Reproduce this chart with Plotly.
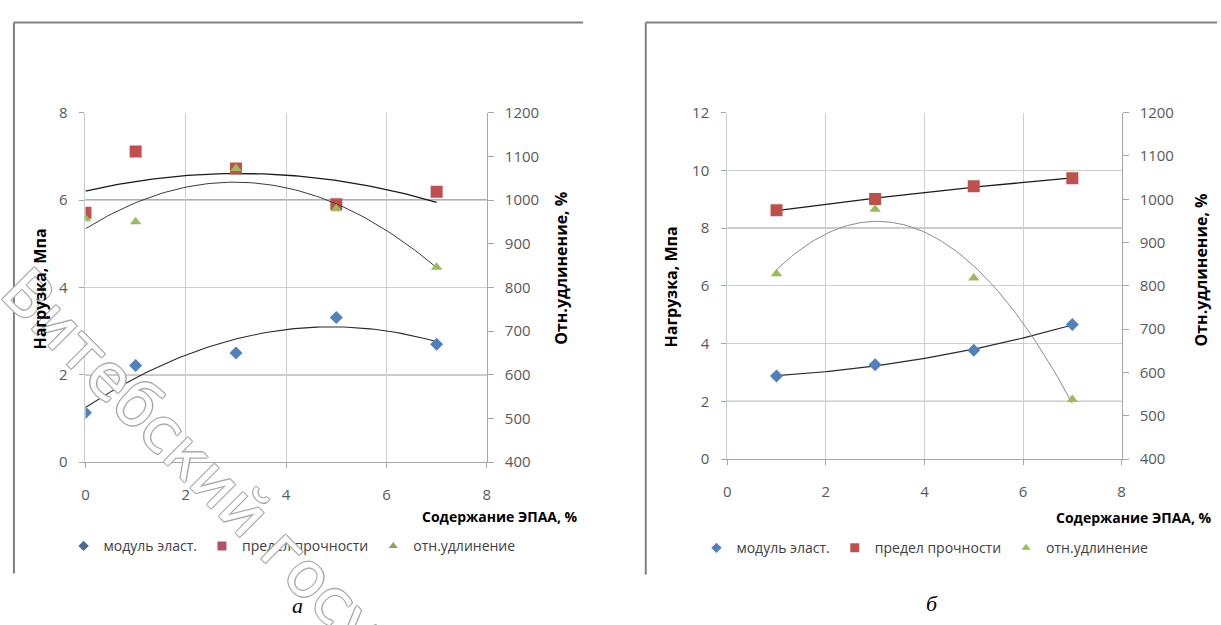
import numpy as np
import plotly.graph_objects as go

# ---------------- data ----------------
series_names = ["модуль эласт.", "предел прочности", "отн.удлинение"]

# panel a
x_a = [0, 1, 3, 5, 7]
modul_a = [1.13, 2.21, 2.50, 3.31, 2.70]        # МПа, left axis
predel_a = [5.71, 7.11, 6.72, 5.90, 6.19]       # МПа, left axis
udlin_a = [957, 950, 1072, 980, 846]            # %, right axis

# panel b
x_b = [1, 3, 5, 7]
modul_b = [2.88, 3.27, 3.77, 4.66]
predel_b = [8.62, 9.01, 9.45, 9.73]
udlin_b = [828, 977, 818, 538]

x_ticks = [0, 2, 4, 6, 8]
left_ticks_a = [0, 2, 4, 6, 8]
left_ticks_b = [0, 2, 4, 6, 8, 10, 12]
right_ticks = [400, 500, 600, 700, 800, 900, 1000, 1100, 1200]

x_title = "Содержание ЭПАА, %"
y_left_title = "Нагрузка, Мпа"
y_right_title = "Отн.удлинение, %"
panel_labels = ["а", "б"]
watermark = "Витебский госу"

# ---------------- style ----------------
W, H = 1221, 625
BLUE, RED, GREEN = "#4F81BD", "#C0504D", "#9BBB59"
FONT = "Open Sans"
TICKC = "#595959"
GRID = "#cfcfcf"
AXC = "#a6a6a6"


def px_x(p):
    return p / W


def px_y(p):
    return 1 - p / H


def trend(x, y, x0, x1):
    """Excel-style 2nd order polynomial trendline."""
    c = np.polyfit(x, y, 2)
    xs = np.linspace(x0, x1, 80)
    return xs, np.polyval(c, xs)


fig = go.Figure()

# ---------- panel a ----------
for xs, ys, col, w, yax in [
    (x_a, predel_a, "#1a1a1a", 1.3, "y"),
    (x_a, udlin_a, "#3a3a3a", 1.0, "y2"),
    (x_a, modul_a, "#2a2a2a", 1.1, "y"),
]:
    tx, ty = trend(xs, ys, 0, 7)
    fig.add_trace(go.Scatter(x=tx, y=ty, mode="lines", xaxis="x", yaxis=yax,
                             line=dict(color=col, width=w), showlegend=False,
                             hoverinfo="skip"))

fig.add_trace(go.Scatter(x=x_a, y=modul_a, mode="markers", xaxis="x", yaxis="y",
                         marker=dict(symbol="diamond", size=10, color=BLUE),
                         showlegend=False))
fig.add_trace(go.Scatter(x=x_a, y=predel_a, mode="markers", xaxis="x", yaxis="y",
                         marker=dict(symbol="square", size=12, color=RED),
                         showlegend=False))
fig.add_trace(go.Scatter(x=x_a, y=udlin_a, mode="markers", xaxis="x", yaxis="y2",
                         marker=dict(symbol="triangle-up", size=10, color=GREEN),
                         showlegend=False))

# ---------- panel b ----------
for xs, ys, col, w, yax in [
    (x_b, predel_b, "#1a1a1a", 1.3, "y3"),
    (x_b, modul_b, "#2a2a2a", 1.2, "y3"),
    (x_b, udlin_b, "#8a8a8a", 1.0, "y4"),
]:
    tx, ty = trend(xs, ys, 1, 7)
    fig.add_trace(go.Scatter(x=tx, y=ty, mode="lines", xaxis="x2", yaxis=yax,
                             line=dict(color=col, width=w), showlegend=False,
                             hoverinfo="skip"))

fig.add_trace(go.Scatter(x=x_b, y=modul_b, mode="markers", xaxis="x2", yaxis="y3",
                         marker=dict(symbol="diamond", size=10, color=BLUE),
                         showlegend=False))
fig.add_trace(go.Scatter(x=x_b, y=predel_b, mode="markers", xaxis="x2", yaxis="y3",
                         marker=dict(symbol="square", size=12, color=RED),
                         showlegend=False))
fig.add_trace(go.Scatter(x=x_b, y=udlin_b, mode="markers", xaxis="x2", yaxis="y4",
                         marker=dict(symbol="triangle-up", size=10, color=GREEN),
                         showlegend=False))

# ---------- legend entries (small symbols as in the original) ----------
leg_symbols = ["diamond", "square", "triangle-up"]
leg_sizes = [8, 9, 8]
leg_colors_a = ["#4A6A8C", "#B9506A", "#8FA062"]
leg_colors_b = [BLUE, RED, GREEN]
for name, sym, sz, col in zip(series_names, leg_symbols, leg_sizes, leg_colors_a):
    fig.add_trace(go.Scatter(x=[None], y=[None], mode="markers", name=name,
                             xaxis="x", yaxis="y", legend="legend",
                             marker=dict(symbol=sym, size=sz, color=col)))
for name, sym, sz, col in zip(series_names, leg_symbols, leg_sizes, leg_colors_b):
    fig.add_trace(go.Scatter(x=[None], y=[None], mode="markers", name=name,
                             xaxis="x2", yaxis="y3", legend="legend2",
                             marker=dict(symbol=sym, size=sz, color=col)))

tickfont = dict(family=FONT, size=15, color=TICKC)


def xaxis_cfg(domain, anchor):
    return dict(domain=domain, anchor=anchor, range=[0, 8], tickvals=x_ticks,
                showgrid=True, gridcolor=GRID, gridwidth=1, zeroline=False,
                showline=True, linecolor=AXC, linewidth=1,
                ticks="outside", ticklen=5, tickcolor=AXC,
                ticklabelstandoff=14, tickfont=tickfont, fixedrange=True)


def yleft_cfg(domain, anchor, rng, vals):
    return dict(domain=domain, anchor=anchor, range=rng, tickvals=vals,
                showgrid=True, gridcolor=GRID, gridwidth=1, zeroline=False,
                showline=True, linecolor="#c3ccd6", linewidth=1,
                ticks="outside", ticklen=5, tickcolor=AXC,
                ticklabelstandoff=9, tickfont=tickfont, fixedrange=True)


def yright_cfg(overlay, anchor):
    return dict(overlaying=overlay, anchor=anchor, side="right", range=[400, 1200],
                tickvals=right_ticks, showgrid=False, zeroline=False,
                showline=True, linecolor=AXC, linewidth=1,
                ticks="outside", ticklen=6, tickcolor=AXC,
                ticklabelstandoff=8, tickfont=tickfont, fixedrange=True)


legend_common = dict(orientation="h", xanchor="left", yanchor="middle",
                     bgcolor="rgba(0,0,0,0)", borderwidth=0,
                     font=dict(family=FONT, size=14, color="#404040"),
                     itemclick=False, itemdoubleclick=False, tracegroupgap=0)

fig.update_layout(
    width=W, height=H,
    margin=dict(l=0, r=0, t=0, b=0),
    paper_bgcolor="white", plot_bgcolor="white",
    font=dict(family=FONT),
    xaxis=xaxis_cfg([px_x(82), px_x(486)], "y"),
    yaxis=yleft_cfg([px_y(466), px_y(105)], "x", [0, 8], left_ticks_a),
    yaxis2=yright_cfg("y", "x"),
    xaxis2=xaxis_cfg([px_x(728), px_x(1125)], "y3"),
    yaxis3=yleft_cfg([px_y(463), px_y(105)], "x2", [0, 12], left_ticks_b),
    yaxis4=yright_cfg("y3", "x2"),
    legend=dict(legend_common, x=px_x(60), y=px_y(553)),
    legend2=dict(legend_common, x=px_x(697), y=px_y(555)),
)

# ---------- frames and darker gridlines (scan look) ----------
shapes = []
frame = dict(type="line", xref="paper", yref="paper", line=dict(color="#808080", width=2))
shapes.append(dict(frame, x0=px_x(10), x1=px_x(583), y0=px_y(12), y1=px_y(12)))
shapes.append(dict(frame, x0=px_x(10), x1=px_x(10), y0=px_y(12), y1=px_y(581)))
shapes.append(dict(frame, x0=px_x(646), x1=1, y0=px_y(12), y1=px_y(12)))
shapes.append(dict(frame, x0=px_x(646), x1=px_x(646), y0=px_y(12), y1=px_y(582)))
dark_grid_a = [2, 6]
dark_grid_b = [2, 8]
for v in dark_grid_a:
    shapes.append(dict(type="line", xref="x domain", yref="y", x0=0, x1=1, y0=v, y1=v,
                       line=dict(color="#959595", width=1.3), layer="below"))
for v in dark_grid_b:
    shapes.append(dict(type="line", xref="x2 domain", yref="y3", x0=0, x1=1, y0=v, y1=v,
                       line=dict(color="#959595", width=1.3), layer="below"))
fig.update_layout(shapes=shapes)

# ---------- texts ----------
ann = []
ann.append(dict(text=watermark, x=px_x(190), y=px_y(463), xref="paper", yref="paper",
                showarrow=False, textangle=45, xanchor="center", yanchor="middle",
                font=dict(family="DejaVu Sans", size=62, color="white",
                          shadow="1px 1px 0 #a8a8a8, -1px -1px 0 #a8a8a8, 1px -1px 0 #a8a8a8, -1px 1px 0 #a8a8a8")))
title_font_v = dict(family=FONT, size=16, color="black")
title_font_h = dict(family=FONT, size=14, color="black")
ann += [
    dict(text="<b>%s</b>" % x_title, x=px_x(580), y=px_y(522), xanchor="right", yanchor="middle",
         font=title_font_h),
    dict(text="<b>%s</b>" % x_title, x=px_x(1057), y=px_y(523), xanchor="left", yanchor="middle",
         font=title_font_h),
    dict(text="<b>%s</b>" % y_left_title, x=px_x(36), y=px_y(287), textangle=-90,
         xanchor="center", yanchor="middle", font=title_font_v),
    dict(text="<b>%s</b>" % y_right_title, x=px_x(561), y=px_y(266), textangle=-90,
         xanchor="center", yanchor="middle", font=title_font_v),
    dict(text="<b>%s</b>" % y_left_title, x=px_x(671), y=px_y(285), textangle=-90,
         xanchor="center", yanchor="middle", font=title_font_v),
    dict(text="<b>%s</b>" % y_right_title, x=px_x(1205), y=px_y(268), textangle=-90,
         xanchor="center", yanchor="middle", font=title_font_v),
    dict(text="<i>%s</i>" % panel_labels[0], x=px_x(295), y=px_y(614), xanchor="center", yanchor="middle",
         font=dict(family="Liberation Serif", size=22, color="black")),
    dict(text="<i>%s</i>" % panel_labels[1], x=px_x(934), y=px_y(612), xanchor="center", yanchor="middle",
         font=dict(family="Liberation Serif", size=22, color="black")),
]
for a in ann:
    a.setdefault("xref", "paper")
    a.setdefault("yref", "paper")
    a.setdefault("showarrow", False)
fig.update_layout(annotations=ann)

fig.write_html("out.html", config={"displayModeBar": False},
               post_script="document.body.style.margin='0';document.body.style.overflow='hidden';")
